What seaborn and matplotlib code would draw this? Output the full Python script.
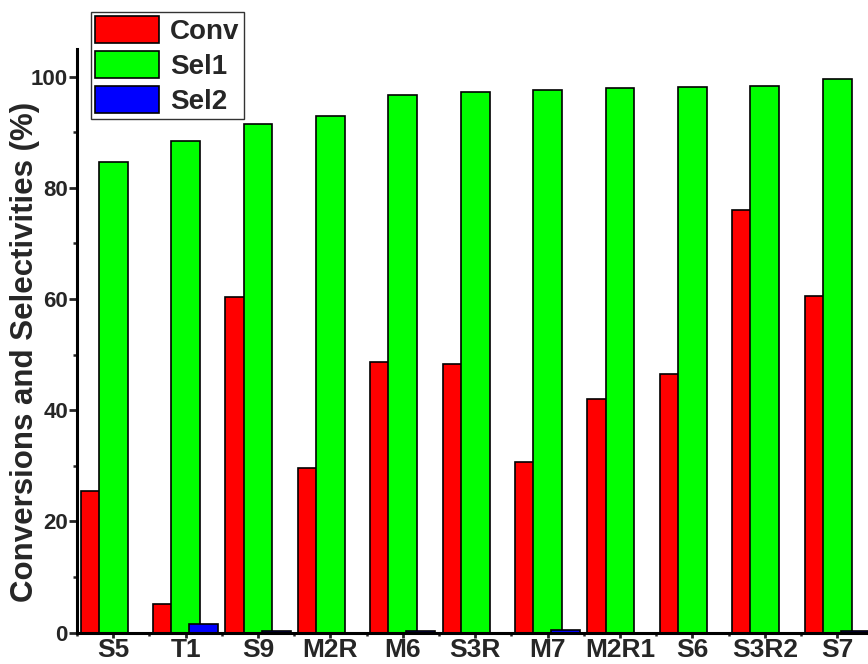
import matplotlib
matplotlib.use("Agg")
import matplotlib.pyplot as plt
from matplotlib.ticker import MultipleLocator, FixedLocator
import seaborn as sns
import pandas as pd

samples = ["S5", "T1", "S9", "M2R", "M6", "S3R", "M7", "M2R1", "S6", "S3R2", "S7"]
conv = [25.4, 5.2, 60.3, 29.7, 48.6, 48.3, 30.6, 42.0, 46.6, 76.1, 60.6]
sel1 = [84.6, 88.4, 91.5, 93.0, 96.7, 97.3, 97.6, 97.9, 98.2, 98.4, 99.6]
sel2 = [0.0, 1.5, 0.3, 0.0, 0.2, 0.0, 0.4, 0.0, 0.0, 0.0, 0.3]
series = ["Conv", "Sel1", "Sel2"]
colors = {"Conv": "#ff0000", "Sel1": "#00ff00", "Sel2": "#0000ff"}


def main():
    df = pd.DataFrame({"Sample": samples, "Conv": conv, "Sel1": sel1, "Sel2": sel2})
    long_df = df.melt(id_vars="Sample", var_name="Series", value_name="Value")

    sns.set_style("ticks")
    plt.rcParams["font.family"] = ["Liberation Sans", "DejaVu Sans"]
    plt.rcParams["font.weight"] = "bold"

    fig = plt.figure(figsize=(8.68, 6.64), dpi=100)
    ax = fig.add_axes([77 / 868, 0.0473, 791 / 868, 0.879])

    sns.barplot(data=long_df, x="Sample", y="Value", hue="Series", order=samples,
                hue_order=series, palette=colors, width=0.75, dodge=True,
                edgecolor="black", linewidth=1.2, saturation=1, errorbar=None, ax=ax)

    # Origin style: wider bars overlapping the neighbour drawn before them
    new_w = 0.40
    for cont in ax.containers:
        for bar in cont:
            cx = bar.get_x() + bar.get_width() / 2
            bar.set_width(new_w)
            bar.set_x(cx - new_w / 2)

    ax.set_xlim(-0.5, -0.5 + 791 / 72.4)
    ax.set_ylim(0, 105)
    ax.yaxis.set_major_locator(MultipleLocator(20))
    ax.yaxis.set_minor_locator(MultipleLocator(10))
    ax.xaxis.set_minor_locator(FixedLocator([i - 0.5 for i in range(len(samples) + 1)]))

    for side in ["top", "right"]:
        ax.spines[side].set_visible(False)
    for side in ["left", "bottom"]:
        ax.spines[side].set_linewidth(2.2)
        ax.spines[side].set_color("black")

    ax.tick_params(axis="y", which="major", direction="out", length=6, width=2,
                   labelsize=16, pad=0.5)
    ax.tick_params(axis="y", which="minor", direction="out", length=3, width=1.8)
    ax.tick_params(axis="x", which="major", direction="out", length=3.5, width=2,
                   labelsize=19, pad=0.5)
    ax.tick_params(axis="x", which="minor", direction="out", length=2.5, width=1.8)
    for lbl in ax.get_xticklabels() + ax.get_yticklabels():
        lbl.set_fontweight("bold")

    ax.set_xlabel("")
    ax.set_ylabel("Conversions and Selectivities (%)", fontsize=22.5, fontweight="bold")
    ax.yaxis.set_label_coords(-0.047, 0.481)

    ax.get_legend().remove()
    handles = [plt.Rectangle((0, 0), 1, 1, facecolor=colors[s], edgecolor="black",
                             linewidth=1.2) for s in series]
    leg = fig.legend(handles, series, loc="upper left",
                     bbox_to_anchor=(91 / 868, 1 - 12 / 664),
                     prop={"size": 20, "weight": "bold"}, frameon=True, fancybox=False,
                     handlelength=2.3, handleheight=1.12, labelspacing=0.22,
                     handletextpad=0.4, borderpad=0.15, borderaxespad=0)
    leg.get_frame().set_edgecolor("#333333")
    leg.get_frame().set_linewidth(1.0)
    leg.get_frame().set_alpha(1)

    fig.savefig("out.png", dpi=100)


if __name__ == "__main__":
    main()
